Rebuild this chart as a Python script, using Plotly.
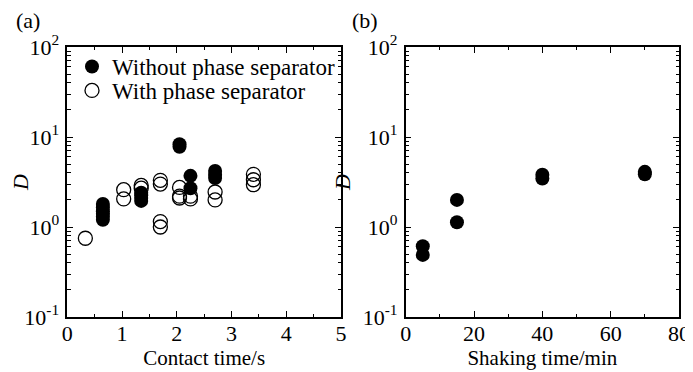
import plotly.graph_objects as go

# Panel (a): contact time (s) vs D
without_x = [0.65, 0.65, 0.65, 0.65, 0.65, 0.65, 1.35, 1.35, 1.35, 1.35,
             2.05, 2.05, 2.25, 2.25, 2.7, 2.7, 2.7]
without_d = [1.8, 1.65, 1.5, 1.4, 1.3, 1.2, 2.4, 2.25, 2.1, 1.95,
             8.3, 7.8, 3.7, 2.7, 4.2, 3.8, 3.5]

with_x = [0.33, 1.03, 1.03, 1.35, 1.35, 1.7, 1.7, 1.7, 1.7,
          2.05, 2.05, 2.05, 2.25, 2.25, 2.7, 2.7, 3.4, 3.4, 3.4]
with_d = [0.75, 2.6, 2.05, 2.9, 2.7, 3.3, 3.0, 1.15, 1.0,
          2.75, 2.2, 2.1, 2.2, 2.05, 2.45, 2.0, 3.85, 3.35, 2.95]

# Panel (b): shaking time (min) vs D
shake_x = [5, 5, 15, 15, 40, 40, 70, 70]
shake_d = [0.61, 0.49, 2.0, 1.13, 3.8, 3.45, 4.1, 3.85]

y_tickvals = [0.1, 1, 10, 100]
y_ticktext = ["10<sup>-1</sup>", "10<sup>0</sup>", "10<sup>1</sup>", "10<sup>2</sup>"]
y_minor = [m * 10 ** e for e in (-1, 0, 1) for m in range(2, 10)]

FONT = "Liberation Serif, Times New Roman, serif"
W, H = 685, 364   # page body has an 8px margin

fig = go.Figure()
fig.add_trace(go.Scatter(x=without_x, y=without_d, mode="markers",
                         name="Without phase separator", legend="legend",
                         marker=dict(symbol="circle", size=14, color="black"),
                         xaxis="x", yaxis="y"))
fig.add_trace(go.Scatter(x=with_x, y=with_d, mode="markers",
                         name="With phase separator", legend="legend2",
                         marker=dict(symbol="circle-open", size=14, color="black",
                                     line=dict(width=1.3, color="black")),
                         xaxis="x", yaxis="y"))
fig.add_trace(go.Scatter(x=shake_x, y=shake_d, mode="markers", showlegend=False,
                         marker=dict(symbol="circle", size=14, color="black"),
                         xaxis="x2", yaxis="y2"))

ydom = [55 / H, 325 / H]
common_axis = dict(showline=True, linecolor="black", linewidth=1.5, mirror="ticks",
                   ticks="inside", ticklen=6, tickwidth=1.2, tickcolor="black",
                   showgrid=False, zeroline=False, automargin=False,
                   tickfont=dict(family=FONT, size=22, color="black"))

yaxis_common = dict(common_axis, type="log", range=[-1, 2], tickmode="array",
                    tickvals=y_tickvals, ticktext=y_ticktext, ticklabelstandoff=2,
                    minor=dict(tickmode="array", tickvals=y_minor, ticks="inside",
                               ticklen=3.5, tickwidth=1, tickcolor="black"),
                    title=dict(text="<i>D</i>", font=dict(family=FONT, size=22, color="black"),
                               standoff=6))

legend_style = dict(xanchor="left", yanchor="top", bgcolor="rgba(0,0,0,0)",
                    borderwidth=0, itemwidth=30,
                    font=dict(family=FONT, size=23, color="black"))

fig.update_layout(
    width=W, height=H,
    margin=dict(l=0, r=0, t=0, b=0),
    paper_bgcolor="white", plot_bgcolor="white",
    showlegend=True,
    legend=dict(legend_style, x=64 / W, y=1 - 37 / H),
    legend2=dict(legend_style, x=64 / W, y=1 - 61 / H),
    xaxis=dict(common_axis, domain=[59.3 / W, 333 / W], range=[0, 5],
               tickmode="array", tickvals=[0, 1, 2, 3, 4, 5], ticklabelstandoff=-4,
               minor=dict(tickmode="array", tickvals=[0.5, 1.5, 2.5, 3.5, 4.5],
                          ticks="inside", ticklen=3.5, tickwidth=1, tickcolor="black"),
               title=dict(text="Contact time/s", font=dict(family=FONT, size=21, color="black"),
                          standoff=5),
               anchor="y"),
    yaxis=dict(yaxis_common, domain=ydom, anchor="x"),
    xaxis2=dict(common_axis, domain=[397.7 / W, 671 / W], range=[0, 80],
                tickmode="array", tickvals=[0, 20, 40, 60, 80], ticklabelstandoff=-4,
                minor=dict(tickmode="array", tickvals=[10, 30, 50, 70],
                           ticks="inside", ticklen=3.5, tickwidth=1, tickcolor="black"),
                title=dict(text="Shaking time/min", font=dict(family=FONT, size=21, color="black"),
                           standoff=5),
                anchor="y2"),
    yaxis2=dict(yaxis_common, domain=ydom, anchor="x2"),
    annotations=[
        dict(text="(a)", x=6 / W, y=1 - 13 / H, xref="paper", yref="paper",
             xanchor="left", yanchor="middle", showarrow=False,
             font=dict(family=FONT, size=22, color="black")),
        dict(text="(b)", x=342 / W, y=1 - 13 / H, xref="paper", yref="paper",
             xanchor="left", yanchor="middle", showarrow=False,
             font=dict(family=FONT, size=22, color="black")),
    ],
)

fig.write_html("out.html")
